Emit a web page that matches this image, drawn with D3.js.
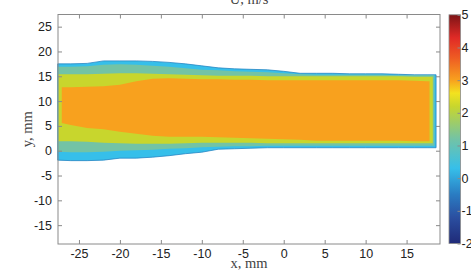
<!DOCTYPE html>
<html>
<head>
<meta charset="utf-8">
<script src="https://cdn.jsdelivr.net/npm/d3@7"></script>
<style>
  body { margin: 0; background: #fff; }
  svg { display: block; }
  .tick text { font-family: "Liberation Sans", Arial, sans-serif; font-size: 12.5px; fill: #222; }
  .lbl { font-family: "Liberation Serif", "DejaVu Serif", serif; font-size: 14.5px; fill: #444; }
</style>
</head>
<body>
<div id="chart"></div>
<script>
// x positions (mm) where the contour band edges were read
var xs = [-27.6, -26, -24, -22, -20, -18, -16, -14, -12, -10, -8, -6, -4, -2, 0, 2, 4, 6, 8, 10, 12, 14, 16, 17.5, 18.7];

// band edges (y, mm) for each filled contour level
var cyanTop    = [17.5, 17.5, 17.6, 18.1, 18.1, 18.1, 18.0, 17.8, 17.5, 17.1, 16.7, 16.5, 16.4, 16.3, 16.0, 15.6, 15.6, 15.6, 15.5, 15.5, 15.5, 15.4, 15.3, 15.3, 15.3];
var cyanBottom = [-1.9, -2.0, -2.0, -1.9, -1.5, -1.5, -1.3, -1.0, -0.6, -0.3, 0.3, 0.4, 0.5, 0.6, 0.6, 0.6, 0.6, 0.6, 0.6, 0.6, 0.6, 0.6, 0.6, 0.6, 0.6];
var tealTop    = [16.9, 16.9, 17.0, 17.3, 17.4, 17.3, 17.1, 16.9, 16.6, 16.3, 16.2, 16.0, 15.9, 15.8, 15.6, 15.4, 15.3, 15.3, 15.3, 15.3, 15.3, 15.2, 15.2, 15.2, 15.2];
var tealBottom = [-0.2, -0.3, -0.3, -0.2, 0.0, 0.1, 0.2, 0.4, 0.5, 0.7, 0.8, 0.9, 0.9, 1.0, 1.0, 1.0, 1.0, 1.0, 1.0, 1.0, 1.0, 1.0, 1.0, 1.0, 1.0];
var yellowTop    = [15.4, 15.4, 15.4, 15.5, 15.6, 15.6, 15.5, 15.4, 15.3, 15.2, 15.1, 15.1, 15.1, 15.0, 15.0, 15.0, 15.0, 15.0, 15.0, 15.0, 15.0, 15.0, 14.9, 14.9, 14.9];
var yellowBottom = [1.9, 1.9, 1.8, 1.6, 1.5, 1.4, 1.4, 1.4, 1.5, 1.6, 1.6, 1.6, 1.6, 1.5, 1.5, 1.5, 1.5, 1.5, 1.5, 1.5, 1.5, 1.5, 1.5, 1.5, 1.5];
var orangeTop    = [12.8, 12.8, 12.9, 13.0, 13.3, 14.0, 14.5, 14.6, 14.5, 14.4, 14.4, 14.3, 14.3, 14.2, 14.2, 14.2, 14.2, 14.2, 14.2, 14.2, 14.2, 14.2, 14.1, 14.0, 14.0];
var orangeBottom = [5.6, 5.2, 4.6, 4.3, 3.8, 3.4, 3.0, 2.8, 2.8, 2.8, 2.7, 2.6, 2.5, 2.4, 2.3, 2.2, 2.0, 2.0, 2.0, 2.0, 2.0, 2.0, 1.9, 1.9, 1.9];

// contour level (m/s) and left/right extent (mm) of each band, outer to inner
var bandLevels = [0.3, 1.2, 2.2, 3.0];
var bandLeft   = [-27.6, -27.6, -27.5, -27.1];
var bandRight  = [18.6, 18.4, 18.2, 17.8];

// axis ticks
var xTicks = [-25, -20, -15, -10, -5, 0, 5, 10, 15];
var yTicks = [-15, -10, -5, 0, 5, 10, 15, 20, 25];
var cbTicks = [-2, -1, 0, 1, 2, 3, 4, 5];

// colormap stops
var cmapValues = [-2, -1.2, -0.5, 0.3, 1.2, 2.2, 2.6, 3.0, 3.7, 4.3, 5];
var cmapColors = ["#1f2a78", "#2b4fa0", "#2a7cc2", "#36bfea", "#73c3a5", "#c8d62d", "#f3e21f", "#f8a11e", "#ee5a23", "#e02a26", "#7d1416"];

var W = 471, H = 275;
var plot = { left: 58, right: 440, top: 14.5, bottom: 244 };

var svg = d3.select("#chart").append("svg")
    .attr("width", W)
    .attr("height", H);

var x = d3.scaleLinear().domain([-27.56, 19.08]).range([plot.left, plot.right]);
var y = d3.scaleLinear().domain([-18.8, 27.45]).range([plot.bottom, plot.top]);
var color = d3.scaleLinear().domain(cmapValues).range(cmapColors);

// plain hyphen minus like the matlab labels
var plain = function(d) { return String(d); };

var bands = [
    { top: cyanTop, bottom: cyanBottom },
    { top: tealTop, bottom: tealBottom },
    { top: yellowTop, bottom: yellowBottom },
    { top: orangeTop, bottom: orangeBottom }
];

var area = d3.area()
    .x(function(d) { return x(d.x); })
    .y0(function(d) { return y(d.lo); })
    .y1(function(d) { return y(d.hi); });

// filled contour bands
bands.forEach(function(b, k) {
    var pts = xs.map(function(v, i) {
        return { x: Math.max(bandLeft[k], Math.min(bandRight[k], v)), lo: b.bottom[i], hi: b.top[i] };
    });
    svg.append("path")
        .datum(pts)
        .attr("d", area)
        .attr("fill", color(bandLevels[k]))
        .attr("stroke", k === 0 ? "#2a86c4" : "none")
        .attr("stroke-width", k === 0 ? 0.8 : 0);
});

// axes, ticks inside like matlab
var axColor = "#8a8a8a";
function styleAxis(g) {
    g.select(".domain").remove();
    g.selectAll(".tick line").attr("stroke", axColor);
}

svg.append("g")
    .attr("transform", "translate(0," + plot.bottom + ")")
    .call(d3.axisBottom(x).tickValues(xTicks).tickSize(-4).tickPadding(5).tickFormat(plain))
    .call(styleAxis);
svg.append("g")
    .attr("transform", "translate(0," + plot.top + ")")
    .call(d3.axisTop(x).tickValues(xTicks).tickSize(-4).tickFormat(""))
    .call(styleAxis);
svg.append("g")
    .attr("transform", "translate(" + plot.left + ",0)")
    .call(d3.axisLeft(y).tickValues(yTicks).tickSize(-4).tickPadding(6).tickFormat(plain))
    .call(styleAxis);
svg.append("g")
    .attr("transform", "translate(" + plot.right + ",0)")
    .call(d3.axisRight(y).tickValues(yTicks).tickSize(-4).tickFormat(""))
    .call(styleAxis);

svg.append("rect")
    .attr("x", plot.left).attr("y", plot.top)
    .attr("width", plot.right - plot.left).attr("height", plot.bottom - plot.top)
    .attr("fill", "none").attr("stroke", axColor).attr("stroke-width", 1);

// labels
svg.append("text").attr("class", "lbl")
    .attr("x", (plot.left + plot.right) / 2).attr("y", 3.5)
    .attr("text-anchor", "middle").text("U, m/s");
svg.append("text").attr("class", "lbl")
    .attr("x", (plot.left + plot.right) / 2).attr("y", 268)
    .attr("text-anchor", "middle").text("x, mm");
svg.append("text").attr("class", "lbl")
    .attr("transform", "translate(32," + (plot.top + plot.bottom) / 2 + ") rotate(-90)")
    .attr("text-anchor", "middle").text("y, mm");

// colorbar
var cb = { left: 449, width: 11.5 };
var cy = d3.scaleLinear().domain([-2, 5]).range([243.5, 14.8]);

var grad = svg.append("defs").append("linearGradient")
    .attr("id", "cbgrad")
    .attr("x1", 0).attr("y1", 1).attr("x2", 0).attr("y2", 0);
grad.selectAll("stop")
    .data(cmapValues)
    .enter()
    .append("stop")
    .attr("offset", function(d) { return (d - cmapValues[0]) / (cmapValues[cmapValues.length - 1] - cmapValues[0]); })
    .attr("stop-color", function(d, i) { return cmapColors[i]; });

svg.append("rect")
    .attr("x", cb.left).attr("y", cy(5))
    .attr("width", cb.width).attr("height", cy(-2) - cy(5))
    .attr("fill", "url(#cbgrad)")
    .attr("stroke", axColor).attr("stroke-width", 0.8);

svg.append("g")
    .attr("transform", "translate(" + (cb.left + cb.width) + ",0)")
    .call(d3.axisRight(cy).tickValues(cbTicks).tickSize(-3).tickPadding(1).tickFormat(plain))
    .call(styleAxis);
</script>
</body>
</html>
